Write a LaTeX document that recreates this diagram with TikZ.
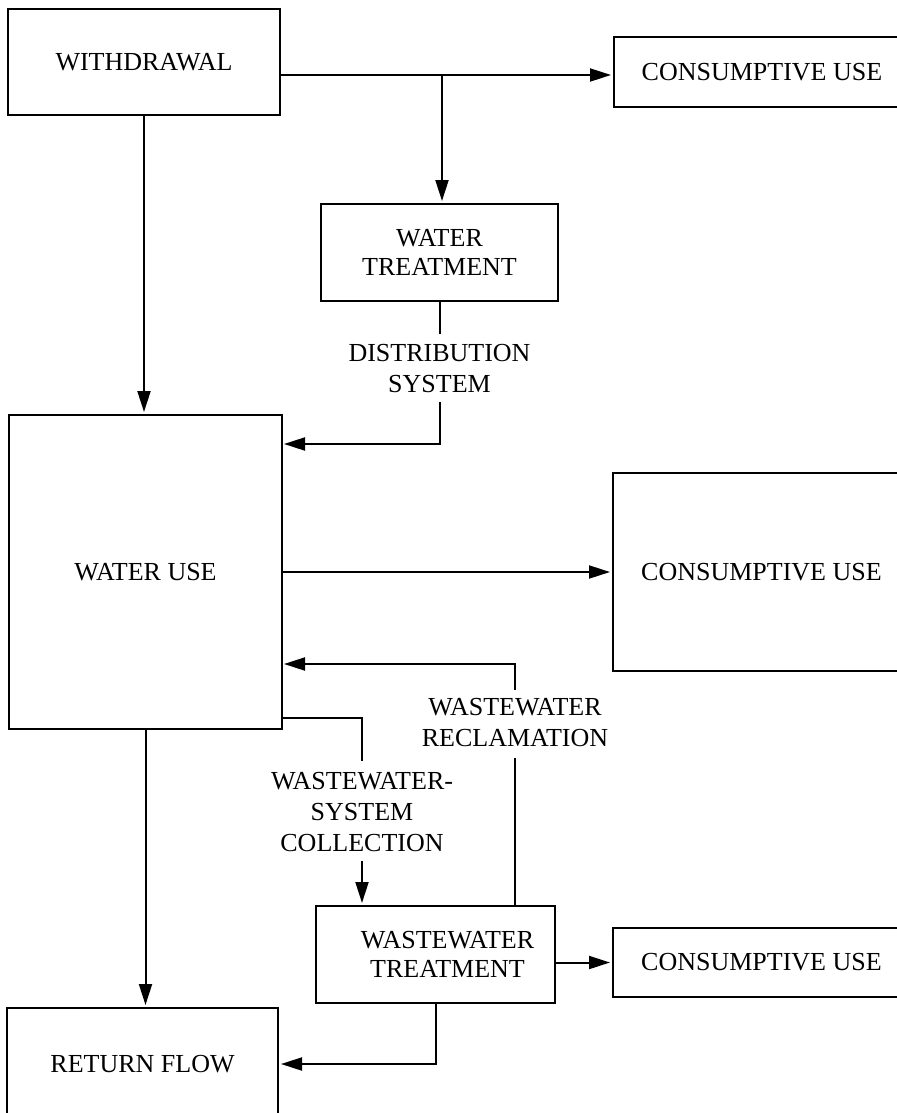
\documentclass[tikz,border=0pt]{standalone}
\usepackage{fontspec}
\setmainfont{Liberation Serif}
\usetikzlibrary{positioning,arrows.meta}

\begin{document}
\begin{tikzpicture}[x=0.5pt,y=-0.5pt,line width=1pt,shorten >=1pt,
  >={Triangle[length=10.5pt,width=6.5pt]},
  font=\fontsize{13}{14.5}\selectfont]
  \tikzstyle{box}=[draw,inner sep=0pt,align=center]
  \tikzstyle{flowlabel}=[inner sep=4pt,align=center,font=\fontsize{13}{15.5}\selectfont]
  \useasboundingbox (0,0) rectangle (897,1113);

  \node[box,minimum width=136pt,minimum height=53pt]    (withdrawal) at (144,62)      {WITHDRAWAL};
  \node[box,minimum width=148pt,minimum height=35pt]    (cons_1)     at (762,72)      {CONSUMPTIVE USE};
  \node[box,minimum width=118.5pt,minimum height=48.5pt] (wtreat)    at (439.5,252.5) {WATER\\TREATMENT};
  \node[box,minimum width=136.5pt,minimum height=157pt]  (wateruse)  at (145.5,572)   {WATER USE};
  \node[box,minimum width=148.5pt,minimum height=99pt]   (cons_2)    at (761.5,572)   {CONSUMPTIVE USE};
  \node[box,minimum width=119.5pt,minimum height=48.5pt] (wwtreat)   at (435.5,954.5) {\hspace*{12pt}WASTEWATER\\\hspace*{12pt}TREATMENT};
  \node[box,minimum width=148.5pt,minimum height=34.5pt] (cons_3)    at (761.5,962.5) {CONSUMPTIVE USE};
  \node[box,minimum width=135.5pt,minimum height=56pt]   (retflow)   at (142.5,1064)  {RETURN FLOW};

  \node[flowlabel] (distrib) at (439.5,369) {DISTRIBUTION\\SYSTEM};
  \node[flowlabel] (reclaim) at (515,723)   {WASTEWATER\\RECLAMATION};
  \node[flowlabel] (collect) at (362,812)   {WASTEWATER-\\SYSTEM\\COLLECTION};

  \coordinate (split)  at (442,75);
  \coordinate (d_in)   at (282,444);
  \coordinate (r_in)   at (282,664);
  \coordinate (c_out)  at (282,718);

  % supply side
  \draw[->] (withdrawal.east |- split) -- (cons_1.west |- split);
  \draw[->] (split) -- (split |- wtreat.north);
  \draw[->] (withdrawal.south) -- (withdrawal.south |- wateruse.north);
  \draw (wtreat.south) -- (distrib.north);
  \draw[->] (distrib.south) |- (d_in);
  \path[->] (wateruse) edge (cons_2);

  % waste side
  \draw (c_out) -| (collect.north);
  \draw[->] (collect.south) -- (collect.south |- wwtreat.north);
  \draw (reclaim.south |- wwtreat.north) -- (reclaim.south);
  \draw[->] (reclaim.north) |- (r_in);
  \draw[->] (wwtreat.east |- cons_3.west) -- (cons_3.west);
  \draw[->] (wwtreat.south) |- (retflow.east);
  \draw[->] (wateruse.south) -- (wateruse.south |- retflow.north);
\end{tikzpicture}
\end{document}
